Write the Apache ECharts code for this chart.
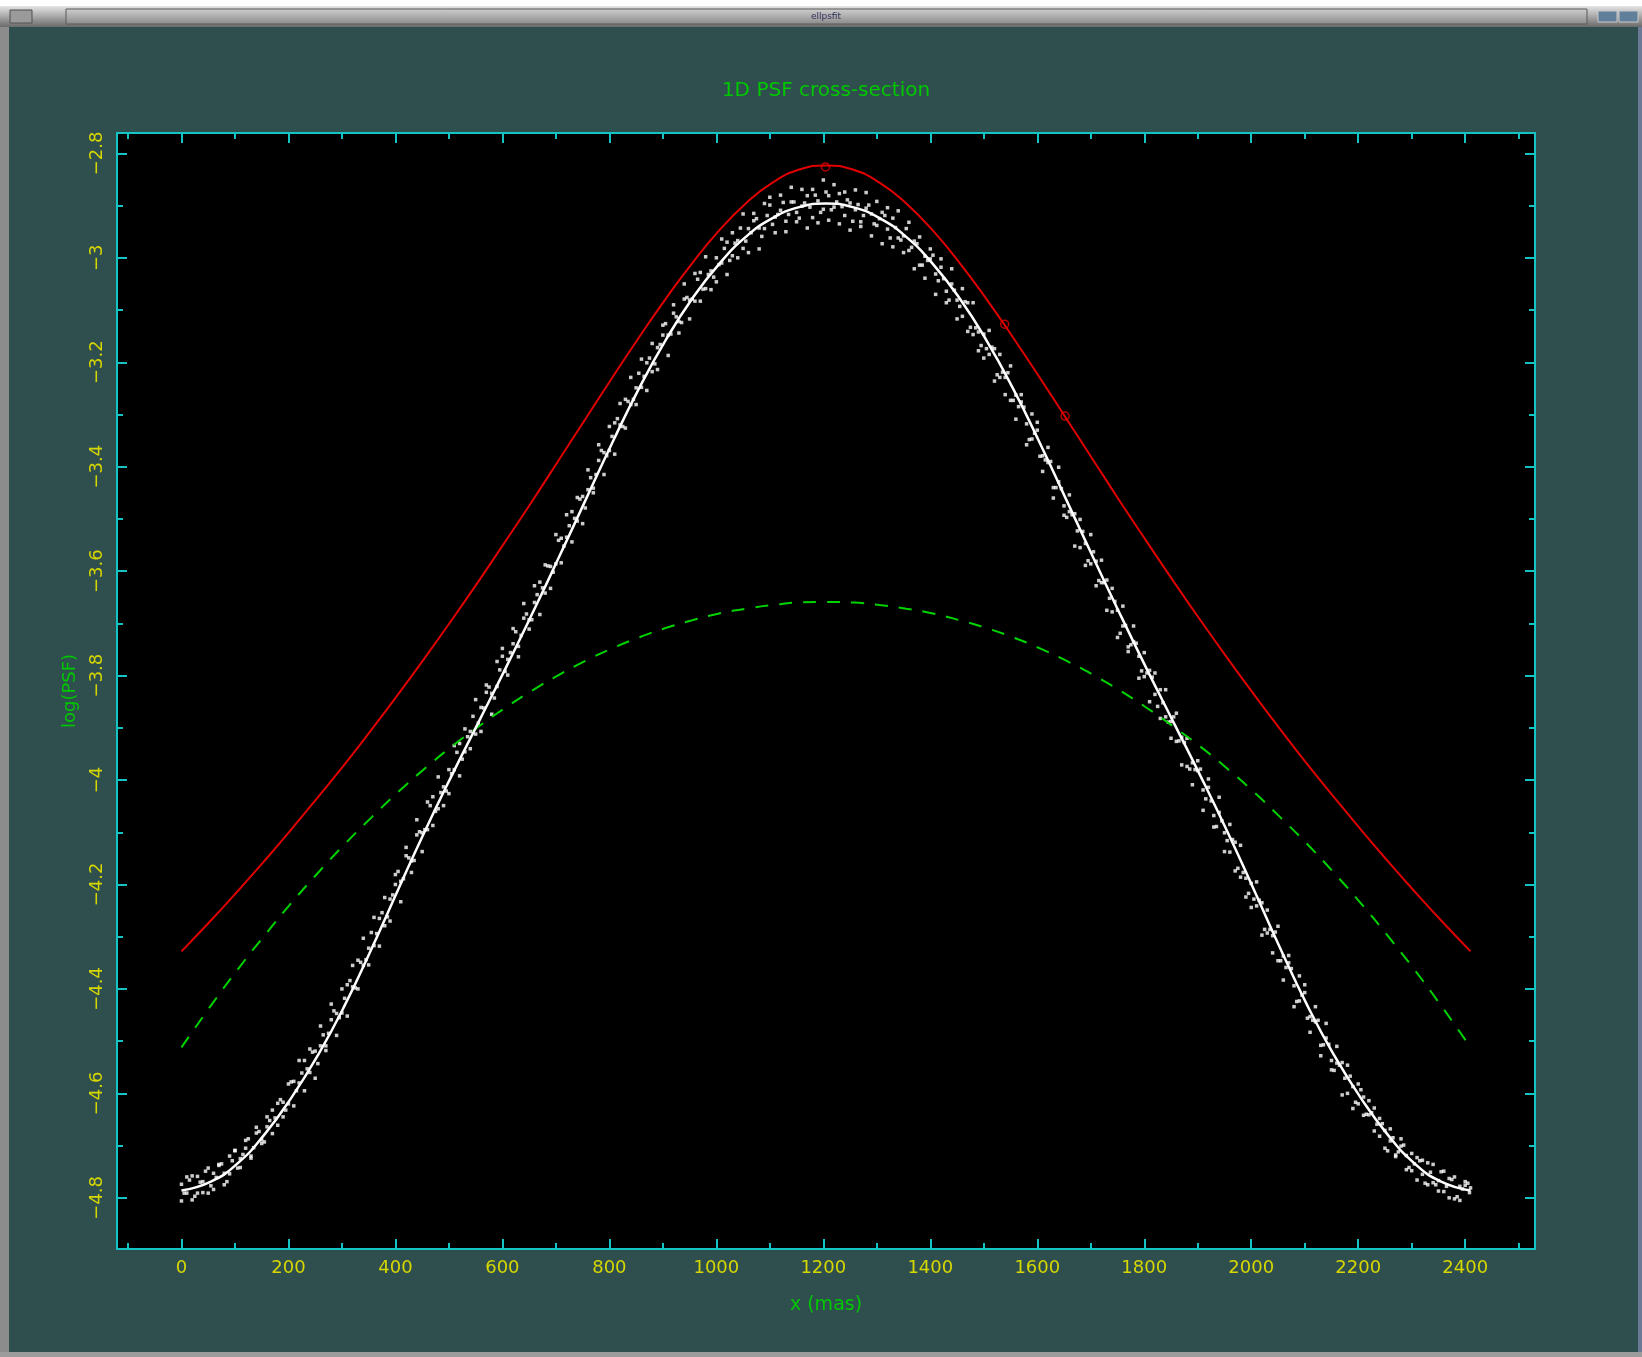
<!DOCTYPE html>
<html>
<head>
<meta charset="utf-8">
<title>1D PSF cross-section</title>
<script src="https://cdn.jsdelivr.net/npm/echarts@6/dist/echarts.min.js"></script>
<style>
  html, body { margin: 0; padding: 0; background: #2f4f4f; }
  #chart { width: 1642px; height: 1357px; }
</style>
</head>
<body>
<div id="chart"></div>
<script>
// ---- data -------------------------------------------------------------
// sample positions along the cut (mas)
const sampleX = [0,55,105,155,205,255,305,355,405,455,505,555,605,655,705,755,805,855,905,955,1005,1055,1105,1155,
                 1205,1255,1305,1355,1405,1455,1505,1555,1605,1655,1705,1755,1805,1855,1905,1955,2005,2055,2105,2155,2205,2255,2305,2355,2410];

// measured profile, central trend (log10)
const measuredLog = [-4.786,-4.769,-4.734,-4.679,-4.609,-4.527,-4.432,-4.324,-4.210,-4.098,-3.992,-3.890,-3.788,-3.683,-3.575,-3.465,-3.355,-3.251,-3.158,-3.078,-3.012,-2.960,-2.924,-2.903,
                     -2.896,-2.903,-2.924,-2.960,-3.012,-3.078,-3.158,-3.251,-3.355,-3.465,-3.575,-3.683,-3.788,-3.890,-3.992,-4.098,-4.210,-4.324,-4.432,-4.527,-4.609,-4.679,-4.734,-4.769,-4.786];

// fitted model (red), log10
const modelLog = [-4.328,-4.269,-4.213,-4.155,-4.095,-4.033,-3.970,-3.904,-3.836,-3.766,-3.694,-3.620,-3.544,-3.467,-3.388,-3.309,-3.230,-3.153,-3.079,-3.010,-2.948,-2.896,-2.856,-2.831,
                  -2.823,-2.831,-2.856,-2.896,-2.948,-3.010,-3.079,-3.153,-3.230,-3.309,-3.388,-3.467,-3.544,-3.620,-3.694,-3.766,-3.836,-3.904,-3.970,-4.033,-4.095,-4.155,-4.213,-4.269,-4.328];

// broad component (green dashed), log10
const haloLog = [-4.512,-4.432,-4.363,-4.298,-4.236,-4.178,-4.123,-4.072,-4.023,-3.978,-3.936,-3.898,-3.862,-3.829,-3.799,-3.772,-3.748,-3.727,-3.709,-3.694,-3.681,-3.672,-3.665,-3.660,
                 -3.659,-3.660,-3.665,-3.672,-3.681,-3.694,-3.709,-3.727,-3.748,-3.772,-3.799,-3.829,-3.862,-3.898,-3.936,-3.978,-4.023,-4.072,-4.123,-4.178,-4.236,-4.298,-4.363,-4.432,-4.512];

// individual pixel samples (x in mas, log10 PSF)
const pixelsA = [
[0,-4.774],[10,-4.791],[20,-4.758],[30,-4.791],[40,-4.769],[50,-4.791],[60,-4.753],[70,-4.738],[80,-4.753],[90,-4.754],
[100,-4.709],[110,-4.725],[120,-4.705],[130,-4.720],[140,-4.676],[150,-4.689],[160,-4.664],[170,-4.632],[180,-4.661],[190,-4.617],
[200,-4.620],[210,-4.577],[220,-4.580],[230,-4.537],[240,-4.560],[250,-4.519],[260,-4.509],[270,-4.509],[280,-4.459],[290,-4.447],
[300,-4.446],[310,-4.392],[320,-4.396],[330,-4.345],[340,-4.355],[350,-4.322],[360,-4.317],[370,-4.265],[380,-4.279],[390,-4.228],
[400,-4.200],[410,-4.194],[420,-4.145],[430,-4.155],[440,-4.105],[450,-4.101],[460,-4.095],[470,-4.032],[480,-4.055],[490,-4.013],
[500,-3.980],[510,-3.980],[520,-3.930],[530,-3.946],[540,-3.907],[550,-3.912],[560,-3.861],[570,-3.832],[580,-3.834],[590,-3.821],
[600,-3.763],[610,-3.769],[620,-3.739],[630,-3.744],[640,-3.690],[650,-3.693],[660,-3.660],[670,-3.621],[680,-3.642],[690,-3.591],
[700,-3.586],[710,-3.537],[720,-3.535],[730,-3.486],[740,-3.504],[750,-3.457],[760,-3.444],[770,-3.441],[780,-3.388],[790,-3.373],
[800,-3.369],[810,-3.316],[820,-3.320],[830,-3.271],[840,-3.281],[850,-3.249],[860,-3.248],[870,-3.201],[880,-3.218],[890,-3.172],
[900,-3.148],[910,-3.148],[920,-3.106],[930,-3.122],[940,-3.079],[950,-3.081],[960,-3.083],[970,-3.028],[980,-3.059],[990,-3.025],
[1000,-3.000],[1010,-3.010],[1020,-2.970],[1030,-2.996],[1040,-2.967],[1050,-2.982],[1060,-2.944],[1070,-2.929],[1080,-2.943],[1090,-2.944],
[1100,-2.899],[1110,-2.922],[1120,-2.909],[1130,-2.930],[1140,-2.893],[1150,-2.913],[1160,-2.901],[1170,-2.881],[1180,-2.923],[1190,-2.891],
[1200,-2.907],[1210,-2.881],[1220,-2.903],[1230,-2.877],[1240,-2.919],[1250,-2.895],[1260,-2.908],[1270,-2.931],[1280,-2.905],[1290,-2.916],
[1300,-2.938],[1310,-2.913],[1320,-2.945],[1330,-2.924],[1340,-2.962],[1350,-2.958],[1360,-2.986],[1370,-2.968],[1380,-3.014],[1390,-2.997],
[1400,-3.002],[1410,-3.031],[1420,-3.018],[1430,-3.064],[1440,-3.050],[1450,-3.081],[1460,-3.112],[1470,-3.086],[1480,-3.147],[1490,-3.142],
[1500,-3.146],[1510,-3.185],[1520,-3.174],[1530,-3.229],[1540,-3.229],[1550,-3.273],[1560,-3.263],[1570,-3.276],[1580,-3.318],[1590,-3.347],
[1600,-3.330],[1610,-3.379],[1620,-3.392],[1630,-3.440],[1640,-3.429],[1650,-3.475],[1660,-3.486],[1670,-3.490],[1680,-3.555],[1690,-3.547],
[1700,-3.586],[1710,-3.581],[1720,-3.622],[1730,-3.617],[1740,-3.678],[1750,-3.675],[1760,-3.705],[1770,-3.745],[1780,-3.735],[1790,-3.763],
[1800,-3.802],[1810,-3.790],[1820,-3.836],[1830,-3.827],[1840,-3.879],[1850,-3.888],[1860,-3.926],[1870,-3.918],[1880,-3.974],[1890,-3.967],
[1900,-3.982],[1910,-4.019],[1920,-4.014],[1930,-4.068],[1940,-4.062],[1950,-4.101],[1960,-4.138],[1970,-4.119],[1980,-4.186],[1990,-4.188],
[2000,-4.198],[2010,-4.241],[2020,-4.235],[2030,-4.293],[2040,-4.298],[2050,-4.346],[2060,-4.337],[2070,-4.350],[2080,-4.394],[2090,-4.423],
[2100,-4.407],[2110,-4.453],[2120,-4.463],[2130,-4.508],[2140,-4.494],[2150,-4.537],[2160,-4.542],[2170,-4.541],[2180,-4.600],[2190,-4.587],
[2200,-4.620],[2210,-4.607],[2220,-4.641],[2230,-4.628],[2240,-4.682],[2250,-4.671],[2260,-4.691],[2270,-4.721],[2280,-4.701],[2290,-4.719],
[2300,-4.748],[2310,-4.723],[2320,-4.755],[2330,-4.733],[2340,-4.771],[2350,-4.767],[2360,-4.788],[2370,-4.763],[2380,-4.802],[2390,-4.778],
[2400,-4.776],[2405,-4.772],[2408,-4.790],[2410,-4.781]
];
const pixelsB = [
[5,-4.791],[15,-4.766],[25,-4.797],[35,-4.770],[45,-4.749],[55,-4.777],[65,-4.761],[75,-4.735],[85,-4.769],[95,-4.729],
[105,-4.743],[115,-4.717],[125,-4.687],[135,-4.704],[145,-4.673],[155,-4.693],[165,-4.652],[175,-4.647],[185,-4.612],[195,-4.632],
[205,-4.578],[215,-4.595],[225,-4.561],[235,-4.553],[245,-4.521],[255,-4.543],[265,-4.488],[275,-4.485],[285,-4.442],[295,-4.455],
[305,-4.418],[315,-4.384],[325,-4.398],[335,-4.349],[345,-4.344],[355,-4.292],[365,-4.294],[375,-4.254],[385,-4.262],[395,-4.220],
[405,-4.175],[415,-4.189],[425,-4.149],[435,-4.154],[445,-4.099],[455,-4.095],[465,-4.049],[475,-4.060],[485,-4.024],[495,-4.021],
[505,-3.988],[515,-3.947],[525,-3.960],[535,-3.917],[545,-3.878],[555,-3.891],[565,-3.862],[575,-3.822],[585,-3.843],[595,-3.789],
[605,-3.792],[615,-3.756],[625,-3.716],[635,-3.723],[645,-3.682],[655,-3.693],[665,-3.645],[675,-3.632],[685,-3.590],[695,-3.602],
[705,-3.541],[715,-3.552],[725,-3.513],[735,-3.499],[745,-3.462],[755,-3.479],[765,-3.421],[775,-3.415],[785,-3.369],[795,-3.379],
[805,-3.342],[815,-3.308],[825,-3.323],[835,-3.275],[845,-3.271],[855,-3.221],[865,-3.227],[875,-3.192],[885,-3.203],[895,-3.166],
[905,-3.126],[915,-3.146],[925,-3.113],[935,-3.124],[945,-3.076],[955,-3.079],[965,-3.041],[975,-3.060],[985,-3.032],[995,-3.037],
[1005,-3.013],[1015,-2.982],[1025,-3.005],[1035,-2.972],[1045,-2.943],[1055,-2.968],[1065,-2.952],[1075,-2.925],[1085,-2.959],[1095,-2.919],
[1105,-2.936],[1115,-2.917],[1125,-2.894],[1135,-2.917],[1145,-2.893],[1155,-2.924],[1165,-2.895],[1175,-2.903],[1185,-2.880],[1195,-2.913],
[1205,-2.874],[1215,-2.908],[1225,-2.893],[1235,-2.902],[1245,-2.889],[1255,-2.930],[1265,-2.898],[1275,-2.919],[1285,-2.899],[1295,-2.935],
[1305,-2.925],[1315,-2.919],[1325,-2.962],[1335,-2.942],[1345,-2.966],[1355,-2.944],[1365,-2.980],[1375,-2.973],[1385,-3.014],[1395,-3.005],
[1405,-2.995],[1415,-3.044],[1425,-3.040],[1435,-3.081],[1445,-3.062],[1455,-3.093],[1465,-3.084],[1475,-3.133],[1485,-3.134],[1495,-3.168],
[1505,-3.174],[1515,-3.171],[1525,-3.224],[1535,-3.219],[1545,-3.220],[1555,-3.273],[1565,-3.285],[1575,-3.286],[1585,-3.348],[1595,-3.336],
[1605,-3.380],[1615,-3.387],[1625,-3.390],[1635,-3.440],[1645,-3.442],[1655,-3.497],[1665,-3.492],[1675,-3.523],[1685,-3.524],[1695,-3.580],
[1705,-3.563],[1715,-3.618],[1725,-3.622],[1735,-3.652],[1745,-3.658],[1755,-3.719],[1765,-3.704],[1775,-3.741],[1785,-3.738],[1795,-3.791],
[1805,-3.795],[1815,-3.803],[1825,-3.859],[1835,-3.852],[1845,-3.889],[1855,-3.879],[1865,-3.925],[1875,-3.928],[1885,-3.979],[1895,-3.980],
[1905,-3.979],[1915,-4.036],[1925,-4.040],[1935,-4.089],[1945,-4.078],[1955,-4.116],[1965,-4.114],[1975,-4.169],[1985,-4.177],[1995,-4.217],
[2005,-4.228],[2015,-4.230],[2025,-4.286],[2035,-4.286],[2045,-4.291],[2055,-4.346],[2065,-4.359],[2075,-4.361],[2085,-4.424],[2095,-4.412],
[2105,-4.456],[2115,-4.460],[2125,-4.460],[2135,-4.507],[2145,-4.506],[2155,-4.556],[2165,-4.546],[2175,-4.571],[2185,-4.567],[2195,-4.617],
[2205,-4.593],[2215,-4.640],[2225,-4.637],[2235,-4.659],[2245,-4.658],[2255,-4.710],[2265,-4.685],[2275,-4.712],[2285,-4.699],[2295,-4.742],
[2305,-4.735],[2315,-4.729],[2325,-4.772],[2335,-4.751],[2345,-4.775],[2355,-4.750],[2365,-4.778],[2375,-4.765],[2385,-4.798],[2395,-4.783]
];
const pixelsC = [
[0,-4.806],[10,-4.760],[20,-4.804],[30,-4.759],[40,-4.790],[50,-4.743],[60,-4.784],[70,-4.736],[80,-4.775],[90,-4.720],
[100,-4.710],[110,-4.742],[120,-4.690],[130,-4.724],[140,-4.665],[150,-4.696],[160,-4.645],[170,-4.677],[180,-4.619],[190,-4.645],
[200,-4.582],[210,-4.624],[220,-4.537],[230,-4.595],[240,-4.515],[250,-4.571],[260,-4.471],[270,-4.518],[280,-4.429],[290,-4.489],
[300,-4.400],[310,-4.452],[320,-4.355],[330,-4.400],[340,-4.303],[350,-4.354],[360,-4.263],[370,-4.318],[380,-4.225],[390,-4.270],
[400,-4.181],[410,-4.233],[420,-4.129],[430,-4.177],[440,-4.076],[450,-4.137],[460,-4.042],[470,-4.087],[480,-3.994],[490,-4.049],
[500,-4.026],[510,-3.934],[520,-3.992],[530,-3.902],[540,-3.940],[550,-3.846],[560,-3.907],[570,-3.818],[580,-3.874],[590,-3.773],
[600,-3.748],[610,-3.799],[620,-3.710],[630,-3.764],[640,-3.662],[650,-3.711],[660,-3.628],[670,-3.683],[680,-3.588],[690,-3.633],
[700,-3.530],[710,-3.584],[720,-3.492],[730,-3.544],[740,-3.459],[750,-3.509],[760,-3.406],[770,-3.450],[780,-3.358],[790,-3.415],
[800,-3.323],[810,-3.376],[820,-3.279],[830,-3.326],[840,-3.229],[850,-3.281],[860,-3.194],[870,-3.254],[880,-3.164],[890,-3.214],
[900,-3.129],[910,-3.187],[920,-3.090],[930,-3.144],[940,-3.050],[950,-3.117],[960,-3.030],[970,-3.083],[980,-2.998],[990,-3.061],
[1000,-3.046],[1010,-2.964],[1020,-3.032],[1030,-2.952],[1040,-3.000],[1050,-2.916],[1060,-2.990],[1070,-2.915],[1080,-2.983],[1090,-2.896],
[1100,-2.884],[1110,-2.952],[1120,-2.880],[1130,-2.950],[1140,-2.865],[1150,-2.931],[1160,-2.869],[1170,-2.943],[1180,-2.869],[1190,-2.933],
[1200,-2.851],[1210,-2.928],[1220,-2.860],[1230,-2.935],[1240,-2.874],[1250,-2.947],[1260,-2.870],[1270,-2.940],[1280,-2.875],[1290,-2.958],
[1300,-2.892],[1310,-2.973],[1320,-2.904],[1330,-2.979],[1340,-2.910],[1350,-2.990],[1360,-2.932],[1370,-3.021],[1380,-2.960],[1390,-3.039],
[1400,-2.983],[1410,-3.070],[1420,-3.002],[1430,-3.086],[1440,-3.021],[1450,-3.117],[1460,-3.059],[1470,-3.141],[1480,-3.086],[1490,-3.178],
[1500,-3.192],[1510,-3.139],[1520,-3.236],[1530,-3.185],[1540,-3.262],[1550,-3.207],[1560,-3.309],[1570,-3.262],[1580,-3.358],[1590,-3.299],
[1600,-3.315],[1610,-3.409],[1620,-3.363],[1630,-3.460],[1640,-3.401],[1650,-3.493],[1660,-3.454],[1670,-3.552],[1680,-3.501],[1690,-3.589],
[1700,-3.530],[1710,-3.628],[1720,-3.579],[1730,-3.675],[1740,-3.633],[1750,-3.727],[1760,-3.667],[1770,-3.754],[1780,-3.705],[1790,-3.805],
[1800,-3.756],[1810,-3.850],[1820,-3.795],[1830,-3.882],[1840,-3.827],[1850,-3.920],[1860,-3.872],[1870,-3.971],[1880,-3.920],[1890,-4.009],
[1900,-3.963],[1910,-4.058],[1920,-3.998],[1930,-4.090],[1940,-4.033],[1950,-4.137],[1960,-4.085],[1970,-4.174],[1980,-4.125],[1990,-4.224],
[2000,-4.244],[2010,-4.195],[2020,-4.297],[2030,-4.249],[2040,-4.331],[2050,-4.280],[2060,-4.383],[2070,-4.336],[2080,-4.434],[2090,-4.375],
[2100,-4.392],[2110,-4.483],[2120,-4.434],[2130,-4.528],[2140,-4.466],[2150,-4.555],[2160,-4.510],[2170,-4.603],[2180,-4.546],[2190,-4.629],
[2200,-4.582],[2210,-4.642],[2220,-4.614],[2230,-4.672],[2240,-4.648],[2250,-4.705],[2260,-4.668],[2270,-4.718],[2280,-4.687],[2290,-4.746],
[2300,-4.715],[2310,-4.766],[2320,-4.728],[2330,-4.775],[2340,-4.736],[2350,-4.787],[2360,-4.749],[2370,-4.800],[2380,-4.760],[2390,-4.805],
[2400,-4.769]
];

// marked points on the model
const markX = [1204, 1539, 1652];
const markY = [-2.826, -3.127, -3.303];

// axes
const xRange = [-120.5, 2530.5];
const yRange = [-4.898, -2.761];
const xMajorTicks = [0,200,400,600,800,1000,1200,1400,1600,1800,2000,2200,2400];
const xMinorTicks = [-100,100,300,500,700,900,1100,1300,1500,1700,1900,2100,2300,2500];
const yMajorTicks = [-4.8,-4.6,-4.4,-4.2,-4,-3.8,-3.6,-3.4,-3.2,-3,-2.8];
const yMinorTicks = [-4.7,-4.5,-4.3,-4.1,-3.9,-3.7,-3.5,-3.3,-3.1,-2.9];

// ---- styling ----------------------------------------------------------
const FRAME = '#12c4c4';
const LABEL = '#d6d600';
const TITLE = '#00c800';
const FONT = 'DejaVu Sans';
const plot = { left: 117, top: 133, width: 1418, height: 1116 };

const pairs = (xs, ys) => xs.map((x, i) => [x, ys[i]]);
const fmtY = v => String(Math.round(v * 10) / 10).replace('-', '\u2212');
const fmtX = v => String(Math.round(v));

function xAxisDef(grid, position, ticks, len, withLabels) {
  return {
    type: 'value', gridIndex: grid, position: position,
    min: xRange[0], max: xRange[1],
    axisLine: { show: false, onZero: false }, splitLine: { show: false },
    axisTick: { show: true, inside: true, length: len, customValues: ticks,
                lineStyle: { color: FRAME, width: 2 } },
    axisLabel: { show: withLabels, customValues: ticks, color: LABEL, fontSize: 18,
                 fontFamily: FONT, margin: 10, formatter: fmtX }
  };
}
function yAxisDef(grid, position, ticks, len, withLabels) {
  return {
    type: 'value', gridIndex: grid, position: position,
    min: yRange[0], max: yRange[1],
    axisLine: { show: false, onZero: false }, splitLine: { show: false },
    axisTick: { show: true, inside: true, length: len, customValues: ticks,
                lineStyle: { color: FRAME, width: 2 } },
    axisLabel: { show: withLabels, customValues: ticks, color: LABEL, fontSize: 18,
                 fontFamily: FONT, margin: 11, rotate: 90, formatter: fmtY }
  };
}
function pixelSeries(name, data) {
  return {
    name: name, type: 'scatter', xAxisIndex: 0, yAxisIndex: 0,
    data: data, symbol: 'rect', symbolSize: 3.5,
    itemStyle: { color: '#ffffff' }
  };
}

const chart = echarts.init(document.getElementById('chart'), null, { renderer: 'canvas' });

const option = {
  backgroundColor: '#2f4f4f',
  animation: false,
  grid: [
    Object.assign({ show: true, backgroundColor: '#000000', borderColor: FRAME, borderWidth: 2 }, plot),
    Object.assign({ show: false }, plot)
  ],
  xAxis: [
    xAxisDef(0, 'bottom', xMajorTicks, 10, true),
    xAxisDef(0, 'top', xMajorTicks, 10, false),
    xAxisDef(1, 'bottom', xMinorTicks, 6, false),
    xAxisDef(1, 'top', xMinorTicks, 6, false)
  ],
  yAxis: [
    yAxisDef(0, 'left', yMajorTicks, 10, true),
    yAxisDef(0, 'right', yMajorTicks, 10, false),
    yAxisDef(1, 'left', yMinorTicks, 6, false),
    yAxisDef(1, 'right', yMinorTicks, 6, false)
  ],
  series: [
    {
      name: 'halo', type: 'line', xAxisIndex: 0, yAxisIndex: 0,
      data: pairs(sampleX, haloLog), smooth: true, symbol: 'none',
      lineStyle: { color: '#00d400', width: 2, type: [13, 11] }
    },
    {
      name: 'model', type: 'line', xAxisIndex: 0, yAxisIndex: 0,
      data: pairs(sampleX, modelLog), smooth: true, symbol: 'none',
      lineStyle: { color: '#e00000', width: 2 }
    },
    pixelSeries('pixels A', pixelsA),
    pixelSeries('pixels B', pixelsB),
    pixelSeries('pixels C', pixelsC),
    {
      name: 'measured trend', type: 'line', xAxisIndex: 0, yAxisIndex: 0,
      data: pairs(sampleX, measuredLog), smooth: true, symbol: 'none',
      lineStyle: { color: '#ffffff', width: 2.5 }
    },
    {
      name: 'marks', type: 'scatter', xAxisIndex: 0, yAxisIndex: 0,
      data: pairs(markX, markY), symbol: 'circle', symbolSize: 8,
      itemStyle: { color: 'rgba(0,0,0,0)', borderColor: '#e00000', borderWidth: 1.5 }
    }
  ],
  graphic: [
    // window frame
    { type: 'rect', shape: { x: 0, y: 0, width: 1642, height: 6 }, style: { fill: '#ffffff' }, silent: true },
    { type: 'rect', shape: { x: 0, y: 6, width: 1642, height: 21 },
      style: { fill: new echarts.graphic.LinearGradient(0, 0, 0, 1, [
        { offset: 0, color: '#e4e4e4' }, { offset: 0.5, color: '#a8a8a8' }, { offset: 1, color: '#6a6a6a' }]) }, silent: true },
    { type: 'rect', shape: { x: 66, y: 9, width: 1521, height: 15 },
      style: { fill: new echarts.graphic.LinearGradient(0, 0, 0, 1, [
        { offset: 0, color: '#cfcfcf' }, { offset: 1, color: '#8a8a8a' }]), stroke: '#5a5a5a', lineWidth: 1 }, silent: true },
    { type: 'text', x: 826, y: 17, style: { text: 'ellpsfit', fill: '#30305a', font: '9px DejaVu Sans', align: 'center', verticalAlign: 'middle' }, silent: true },
    { type: 'rect', shape: { x: 10, y: 10, width: 22, height: 13 }, style: { fill: '#9a9a9a', stroke: '#505050', lineWidth: 1 }, silent: true },
    { type: 'rect', shape: { x: 1598, y: 11, width: 19, height: 11 }, style: { fill: '#5f7f9a', stroke: '#c8c8c8', lineWidth: 1 }, silent: true },
    { type: 'rect', shape: { x: 1619, y: 11, width: 19, height: 11 }, style: { fill: '#5f7f9a', stroke: '#c8c8c8', lineWidth: 1 }, silent: true },
    { type: 'rect', shape: { x: 0, y: 27, width: 9, height: 1330 }, style: { fill: '#8c8c8c' }, silent: true },
    { type: 'rect', shape: { x: 1638, y: 27, width: 4, height: 1330 }, style: { fill: '#6a7a96' }, silent: true },
    { type: 'rect', shape: { x: 0, y: 1352, width: 1642, height: 5 }, style: { fill: '#9c9c9c' }, silent: true },
    // titles
    { type: 'text', x: 826, y: 91,
      style: { text: '1D PSF cross-section', fill: TITLE, font: '20px DejaVu Sans', align: 'center', verticalAlign: 'middle' } },
    { type: 'text', x: 826, y: 1305,
      style: { text: 'x (mas)', fill: TITLE, font: '19px DejaVu Sans', align: 'center', verticalAlign: 'middle' } },
    { type: 'text', x: 70, y: 691, rotation: Math.PI / 2,
      style: { text: 'log(PSF)', fill: TITLE, font: '18px DejaVu Sans', align: 'center', verticalAlign: 'middle' } }
  ]
};

chart.setOption(option);
</script>
</body>
</html>
